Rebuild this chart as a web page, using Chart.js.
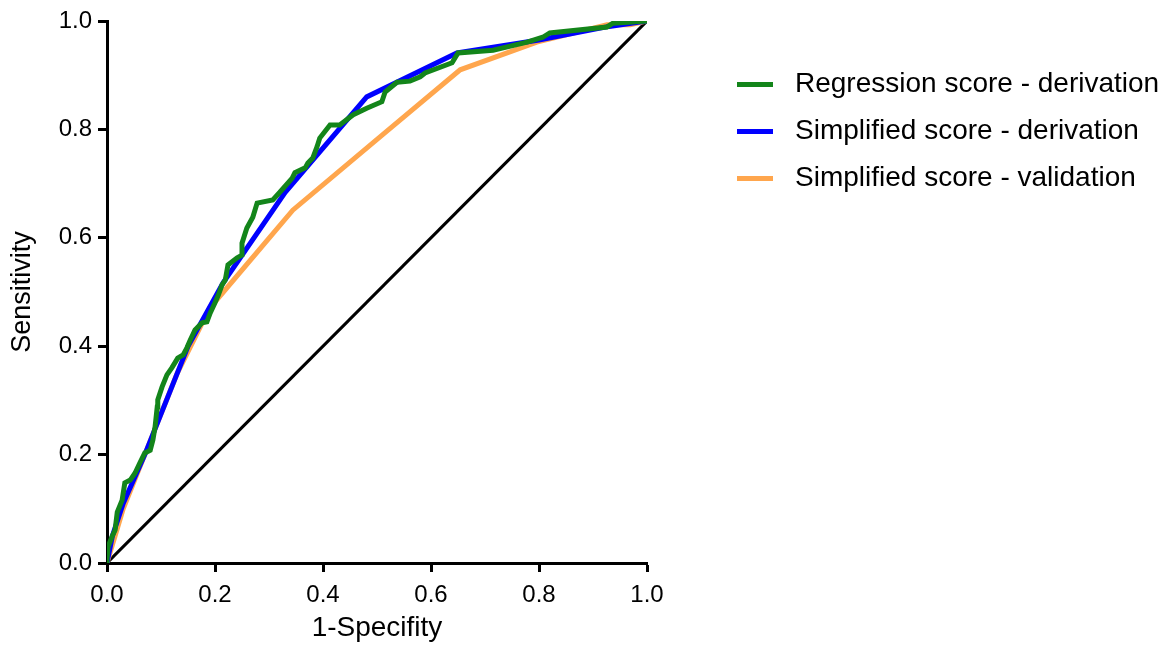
<!DOCTYPE html>
<html>
<head>
<meta charset="utf-8">
<script src="https://cdn.jsdelivr.net/npm/chart.js@4.4.1/dist/chart.umd.min.js"></script>
<style>
html,body{margin:0;padding:0;background:#fff;}
#wrap{position:relative;width:1169px;height:646px;}
</style>
</head>
<body>
<div id="wrap"><canvas id="c"></canvas></div>
<script>
// ---- data ----
const seriesLabels = ["Regression score - derivation", "Simplified score - derivation", "Simplified score - validation"];
const seriesColors = ["#13851a", "#0000ff", "#ffa64d"];

const regX = [0, 0, 0.002, 0.009, 0.015, 0.019, 0.028, 0.033, 0.043, 0.052, 0.061, 0.070, 0.080, 0.085, 0.089, 0.093, 0.094, 0.102, 0.111, 0.120, 0.131, 0.141, 0.148, 0.154, 0.163, 0.176, 0.185, 0.191, 0.200, 0.206, 0.213, 0.219, 0.224, 0.241, 0.250, 0.250, 0.259, 0.270, 0.278, 0.307, 0.320, 0.343, 0.348, 0.367, 0.372, 0.381, 0.389, 0.394, 0.413, 0.431, 0.456, 0.481, 0.509, 0.515, 0.537, 0.561, 0.580, 0.589, 0.639, 0.650, 0.715, 0.778, 0.807, 0.820, 0.926, 0.937, 1.0];
const regY = [0, 0.006, 0.030, 0.048, 0.061, 0.094, 0.116, 0.148, 0.153, 0.166, 0.185, 0.203, 0.208, 0.227, 0.251, 0.288, 0.301, 0.325, 0.347, 0.360, 0.378, 0.384, 0.397, 0.411, 0.430, 0.443, 0.445, 0.461, 0.480, 0.494, 0.513, 0.522, 0.550, 0.563, 0.568, 0.590, 0.618, 0.638, 0.664, 0.670, 0.684, 0.710, 0.720, 0.729, 0.738, 0.747, 0.768, 0.784, 0.808, 0.808, 0.827, 0.839, 0.851, 0.869, 0.887, 0.889, 0.897, 0.904, 0.923, 0.941, 0.946, 0.961, 0.970, 0.978, 0.989, 0.996, 1.0];

const simDerX = [0, 0.01, 0.03, 0.07, 0.15, 0.215, 0.33, 0.481, 0.648, 0.80, 0.93, 1.0];
const simDerY = [0, 0.05, 0.11, 0.20, 0.40, 0.517, 0.684, 0.860, 0.941, 0.965, 0.99, 1.0];

const simValX = [0, 0.012, 0.03, 0.07, 0.13, 0.19, 0.344, 0.51, 0.654, 0.796, 0.926, 0.969, 1.0];
const simValY = [0, 0.04, 0.10, 0.20, 0.35, 0.47, 0.651, 0.79, 0.910, 0.961, 0.993, 0.993, 1.0];

const refX = [0, 1];
const refY = [0, 1];

const axisTicks = [0, 0.2, 0.4, 0.6, 0.8, 1.0];
const xTitle = "1-Specifity";
const yTitle = "Sensitivity";

// ---- build ----
const toPts = (xs, ys) => xs.map((x, i) => ({x: x, y: ys[i]}));
const FONT = '"Liberation Sans", Arial, Helvetica, sans-serif';

const legendPlugin = {
  id: 'sideLegend',
  afterDraw(chart) {
    const ctx = chart.ctx;
    const a = chart.chartArea;
    const x0 = a.right + 90, x1 = x0 + 36, tx = x0 + 58;
    ctx.save();
    seriesLabels.forEach((lab, i) => {
      const y = a.top + 63.5 + i * 47;
      ctx.strokeStyle = seriesColors[i];
      ctx.lineWidth = 5;
      ctx.beginPath(); ctx.moveTo(x0, y); ctx.lineTo(x1, y); ctx.stroke();
      ctx.fillStyle = '#000';
      ctx.font = '28px ' + FONT;
      ctx.textBaseline = 'middle';
      ctx.textAlign = 'left';
      ctx.fillText(lab, tx, y);
    });
    ctx.restore();
  }
};

const lineDs = (label, data, color, width) => ({
  label: label, data: data, borderColor: color, backgroundColor: color,
  borderWidth: width, pointRadius: 0, tension: 0, fill: false
});

new Chart(document.getElementById('c'), {
  type: 'line',
  data: {
    datasets: [
      lineDs(seriesLabels[0], toPts(regX, regY), seriesColors[0], 5),
      lineDs(seriesLabels[1], toPts(simDerX, simDerY), seriesColors[1], 5),
      lineDs(seriesLabels[2], toPts(simValX, simValY), seriesColors[2], 5),
      lineDs('Reference', toPts(refX, refY), '#000', 3)
    ]
  },
  options: {
    responsive: true,
    maintainAspectRatio: false,
    animation: false,
    layout: { padding: { left: 0, right: 522, top: 21, bottom: 0 } },
    plugins: { legend: { display: false }, tooltip: { enabled: false } },
    scales: {
      x: {
        type: 'linear', min: 0, max: 1,
        afterBuildTicks: s => { s.ticks = axisTicks.map(v => ({value: v})); },
        afterFit: s => { s.height = 83; },
        border: { display: true, color: '#000', width: 3 },
        grid: { drawOnChartArea: false, drawTicks: true, tickLength: 9, tickWidth: 3, tickColor: '#000', color: '#000' },
        ticks: { color: '#000', font: { family: FONT, size: 24 }, padding: 9, maxRotation: 0, callback: v => Number(v).toFixed(1) },
        title: { display: true, text: xTitle, color: '#000', font: { family: FONT, size: 28 }, padding: { top: 0, bottom: 1 } }
      },
      y: {
        type: 'linear', min: 0, max: 1,
        afterBuildTicks: s => { s.ticks = axisTicks.map(v => ({value: v})); },
        afterFit: s => { s.width = 107; },
        border: { display: true, color: '#000', width: 3 },
        grid: { drawOnChartArea: false, drawTicks: true, tickLength: 9, tickWidth: 3, tickColor: '#000', color: '#000' },
        ticks: { color: '#000', font: { family: FONT, size: 24 }, padding: 6, callback: v => Number(v).toFixed(1) },
        title: { display: true, text: yTitle, color: '#000', font: { family: FONT, size: 27 }, padding: { top: 6, bottom: 0 } }
      }
    }
  },
  plugins: [legendPlugin]
});
</script>
</body>
</html>
